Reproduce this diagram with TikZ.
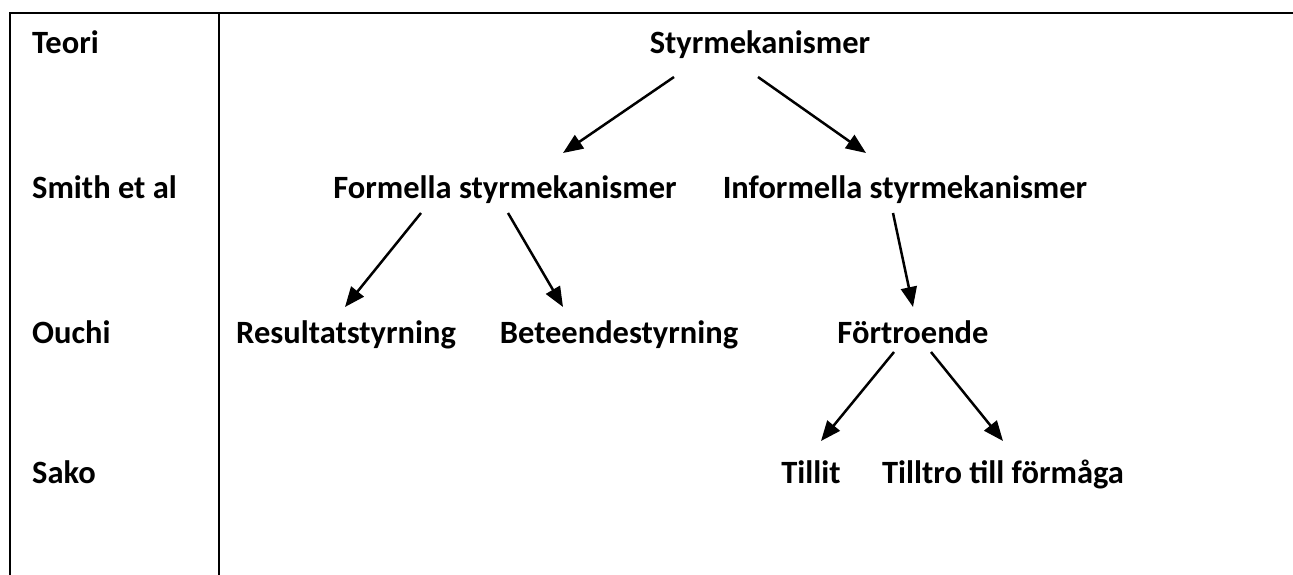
\documentclass[tikz,border=0pt]{standalone}
\usepackage{fontspec}
\setmainfont{Carlito}
\usetikzlibrary{arrows.meta,calc}
\begin{document}
\begin{tikzpicture}[x=1pt,y=-1pt,
  lbl/.style={font=\fontsize{32.5}{38}\selectfont\bfseries, inner sep=0pt, anchor=base},
  rowlbl/.style={lbl, anchor=base west},
  arr/.style={line width=2.5pt, -{Triangle[length=20pt,width=16pt]}},
  frame/.style={line width=2.4pt}]
\useasboundingbox (0,0) rectangle (1293,575);
% frame
\coordinate (tl) at (10,13);
\coordinate (tr) at (1293,13);
\coordinate (bl) at (10,575);
\coordinate (dt) at (219,13);
\coordinate (db) at (219,575);
\draw[frame] (bl) -- (tl) -- (tr);
\draw[frame] (dt) -- (db);
% row labels
\node[rowlbl] (teori) at (32,54) {Teori};
\node[rowlbl] (smith) at (32,198) {Smith et al};
\node[rowlbl] (ouchi) at (32,343) {Ouchi};
\node[rowlbl] (sako) at (32,483) {Sako};
% tree
\node[lbl] (styr) at (760,54) {Styrmekanismer};
\node[lbl] (form) at (505,198) {Formella styrmekanismer};
\node[lbl] (inf) at (905,198) {Informella styrmekanismer};
\node[lbl] (res) at (346,343) {Resultatstyrning};
\node[lbl] (bet) at (619,343) {Beteendestyrning};
\node[lbl] (fort) at (913,343) {Förtroende};
\node[lbl] (till) at (811,483) {Tillit};
\node[lbl] (tilltro) at (1003,483) {Tilltro till förmåga};
% arrows
\draw[arr] ($(styr.base)+(-86,23)$) -- ($(form.base)+(58,-45)$);
\draw[arr] ($(styr.base)+(-2,23)$) -- ($(inf.base)+(-39,-45)$);
\draw[arr] ($(form.base)+(-84,15)$) -- ($(res.base)+(-1,-36)$);
\draw[arr] ($(form.base)+(3,15)$) -- ($(bet.base)+(-56,-36)$);
\draw[arr] ($(inf.base)+(-12,15)$) -- ($(fort.base)+(0,-36)$);
\draw[arr] ($(fort.base)+(-19,9)$) -- ($(till.base)+(10,-42)$);
\draw[arr] ($(fort.base)+(18,9)$) -- ($(tilltro.base)+(0,-42)$);
\end{tikzpicture}
\end{document}
